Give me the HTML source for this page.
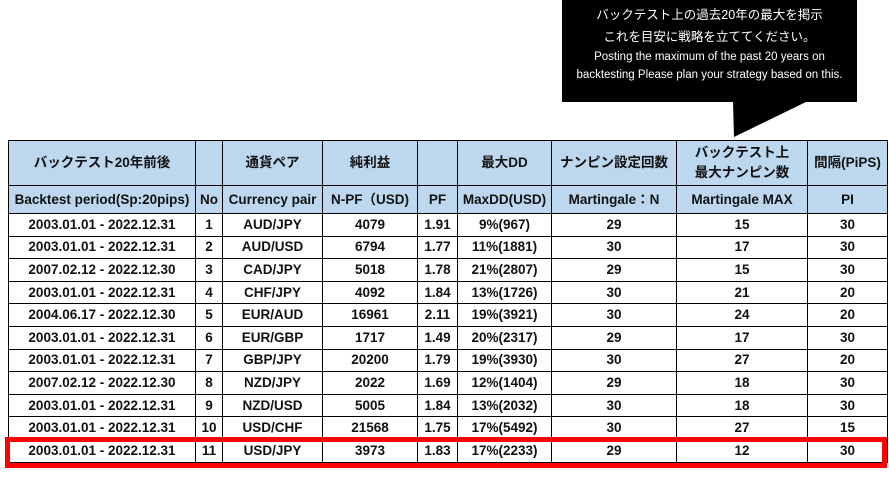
<!DOCTYPE html>
<html><head><meta charset="utf-8"><style>
body{margin:0;width:889px;height:478px;background:#fff;position:relative;overflow:hidden;font-family:"Liberation Sans","Noto Sans CJK JP",sans-serif;}
.call{position:absolute;left:562px;top:0;width:295px;height:102px;background:#000;color:#fff;text-align:center;font-size:12.5px;}
.call div{line-height:18px}
table{position:absolute;left:8px;top:140px;border-collapse:collapse;font-weight:bold;font-size:13.5px;color:#111;}
td{border:1px solid #000;text-align:center;padding:0;height:21.6px;line-height:14px;}
tr.h td{background:#BDD7EE;}
tr.h1 td{height:44px;line-height:20px;}
tr.h2 td{height:27px;}
.red{position:absolute;left:5px;top:437px;width:872px;height:21px;border:5px solid #f00;}
</style></head><body>
<div class="call"><div style="height:6px"></div><div>バックテスト上の過去20年の最大を掲示</div><div style="margin-top:4px">これを目安に戦略を立ててください。</div><div style="font-size:11.5px;margin-top:2px">Posting the maximum of the past 20 years on</div><div style="font-size:11.5px">backtesting Please plan your strategy based on this.</div></div>
<svg style="position:absolute;left:0;top:0" width="889" height="478"><polygon points="733,101 808,101 734,137" fill="#000"/></svg>
<table>
<colgroup><col style="width:187px"><col style="width:27px"><col style="width:100px"><col style="width:95px"><col style="width:40px"><col style="width:94px"><col style="width:125px"><col style="width:131px"><col style="width:80px"></colgroup>
<tr class="h h1"><td>バックテスト20年前後</td><td></td><td>通貨ペア</td><td>純利益</td><td></td><td>最大DD</td><td>ナンピン設定回数</td><td>バックテスト上<br>最大ナンピン数</td><td>間隔(PiPS)</td></tr>
<tr class="h h2"><td>Backtest period(Sp:20pips)</td><td>No</td><td>Currency pair</td><td>N-PF（USD)</td><td>PF</td><td>MaxDD(USD)</td><td>Martingale：N</td><td>Martingale MAX</td><td>PI</td></tr>
<tr><td>2003.01.01 - 2022.12.31</td><td>1</td><td>AUD/JPY</td><td>4079</td><td>1.91</td><td>9%(967)</td><td>29</td><td>15</td><td>30</td></tr>
<tr><td>2003.01.01 - 2022.12.31</td><td>2</td><td>AUD/USD</td><td>6794</td><td>1.77</td><td>11%(1881)</td><td>30</td><td>17</td><td>30</td></tr>
<tr><td>2007.02.12 - 2022.12.30</td><td>3</td><td>CAD/JPY</td><td>5018</td><td>1.78</td><td>21%(2807)</td><td>29</td><td>15</td><td>30</td></tr>
<tr><td>2003.01.01 - 2022.12.31</td><td>4</td><td>CHF/JPY</td><td>4092</td><td>1.84</td><td>13%(1726)</td><td>30</td><td>21</td><td>20</td></tr>
<tr><td>2004.06.17 - 2022.12.30</td><td>5</td><td>EUR/AUD</td><td>16961</td><td>2.11</td><td>19%(3921)</td><td>30</td><td>24</td><td>20</td></tr>
<tr><td>2003.01.01 - 2022.12.31</td><td>6</td><td>EUR/GBP</td><td>1717</td><td>1.49</td><td>20%(2317)</td><td>29</td><td>17</td><td>30</td></tr>
<tr><td>2003.01.01 - 2022.12.31</td><td>7</td><td>GBP/JPY</td><td>20200</td><td>1.79</td><td>19%(3930)</td><td>30</td><td>27</td><td>20</td></tr>
<tr><td>2007.02.12 - 2022.12.30</td><td>8</td><td>NZD/JPY</td><td>2022</td><td>1.69</td><td>12%(1404)</td><td>29</td><td>18</td><td>30</td></tr>
<tr><td>2003.01.01 - 2022.12.31</td><td>9</td><td>NZD/USD</td><td>5005</td><td>1.84</td><td>13%(2032)</td><td>30</td><td>18</td><td>30</td></tr>
<tr><td>2003.01.01 - 2022.12.31</td><td>10</td><td>USD/CHF</td><td>21568</td><td>1.75</td><td>17%(5492)</td><td>30</td><td>27</td><td>15</td></tr>
<tr><td>2003.01.01 - 2022.12.31</td><td>11</td><td>USD/JPY</td><td>3973</td><td>1.83</td><td>17%(2233)</td><td>29</td><td>12</td><td>30</td></tr>
</table>
<div class="red"></div>
</body></html>
